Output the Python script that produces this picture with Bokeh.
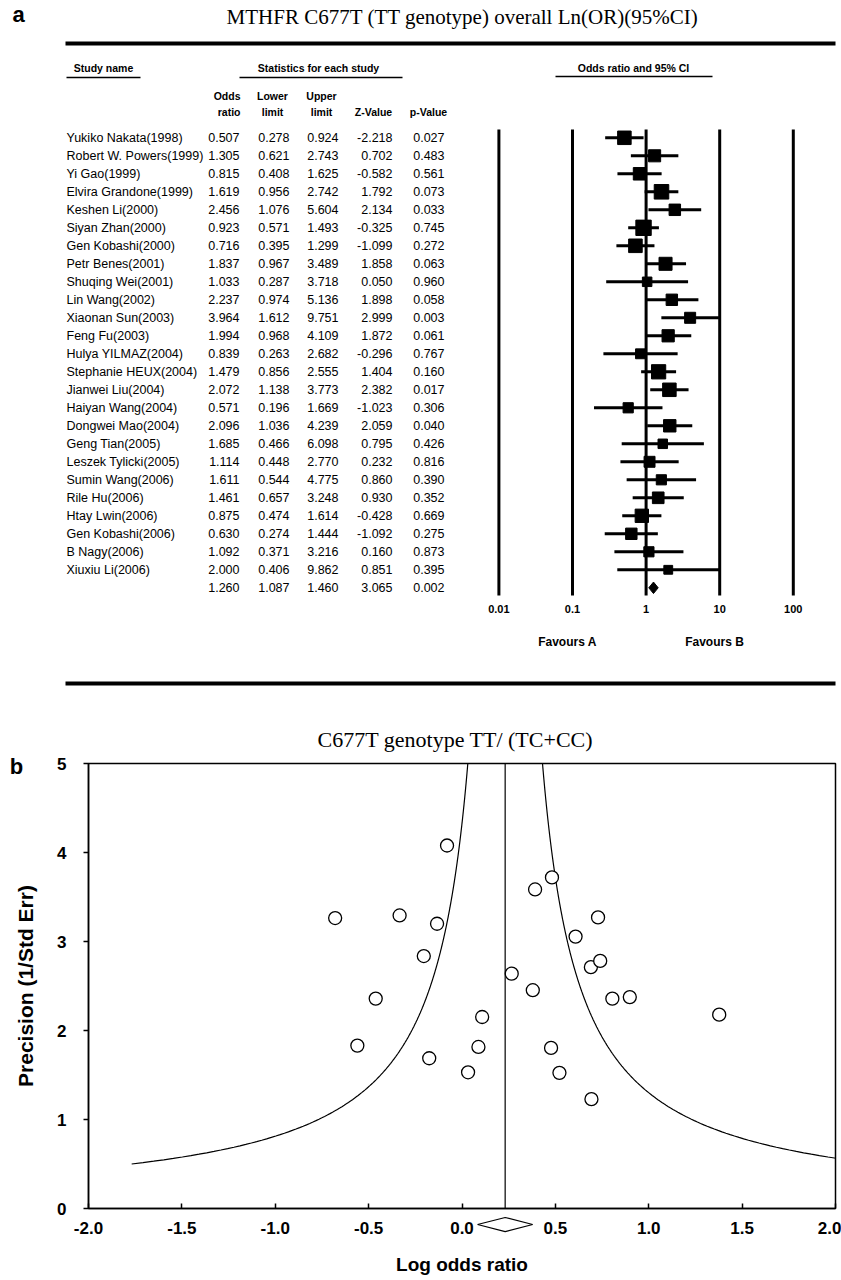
import math
import numpy as np
from bokeh.plotting import figure
from bokeh.models import (Range1d, LogScale, ColumnDataSource, Span,
                          FixedTicker, NumeralTickFormatter)
from bokeh.embed import file_html
from bokeh.resources import INLINE
from bokeh.core.properties import value

# ---------------- data ----------------
studies = ["Yukiko Nakata(1998)", "Robert W. Powers(1999)", "Yi Gao(1999)",
           "Elvira Grandone(1999)", "Keshen Li(2000)", "Siyan Zhan(2000)",
           "Gen Kobashi(2000)", "Petr Benes(2001)", "Shuqing Wei(2001)",
           "Lin Wang(2002)", "Xiaonan Sun(2003)", "Feng Fu(2003)",
           "Hulya YILMAZ(2004)", "Stephanie HEUX(2004)", "Jianwei Liu(2004)",
           "Haiyan Wang(2004)", "Dongwei Mao(2004)", "Geng Tian(2005)",
           "Leszek Tylicki(2005)", "Sumin Wang(2006)", "Rile Hu(2006)",
           "Htay Lwin(2006)", "Gen Kobashi(2006)", "B Nagy(2006)", "Xiuxiu Li(2006)"]
odds_ratio = [0.507, 1.305, 0.815, 1.619, 2.456, 0.923, 0.716, 1.837, 1.033, 2.237,
              3.964, 1.994, 0.839, 1.479, 2.072, 0.571, 2.096, 1.685, 1.114, 1.611,
              1.461, 0.875, 0.630, 1.092, 2.000]
lower_limit = [0.278, 0.621, 0.408, 0.956, 1.076, 0.571, 0.395, 0.967, 0.287, 0.974,
               1.612, 0.968, 0.263, 0.856, 1.138, 0.196, 1.036, 0.466, 0.448, 0.544,
               0.657, 0.474, 0.274, 0.371, 0.406]
upper_limit = [0.924, 2.743, 1.625, 2.742, 5.604, 1.493, 1.299, 3.489, 3.718, 5.136,
               9.751, 4.109, 2.682, 2.555, 3.773, 1.669, 4.239, 6.098, 2.770, 4.775,
               3.248, 1.614, 1.444, 3.216, 9.862]
z_value = [-2.218, 0.702, -0.582, 1.792, 2.134, -0.325, -1.099, 1.858, 0.050, 1.898,
           2.999, 1.872, -0.296, 1.404, 2.382, -1.023, 2.059, 0.795, 0.232, 0.860,
           0.930, -0.428, -1.092, 0.160, 0.851]
p_value = [0.027, 0.483, 0.561, 0.073, 0.033, 0.745, 0.272, 0.063, 0.960, 0.058,
           0.003, 0.061, 0.767, 0.160, 0.017, 0.306, 0.040, 0.426, 0.816, 0.390,
           0.352, 0.669, 0.275, 0.873, 0.395]
summary_or = 1.260
summary_lower = 1.087
summary_upper = 1.460
summary_z = 3.065
summary_p = 0.002

forest_ticks = [0.01, 0.1, 1, 10, 100]
forest_tick_labels = ["0.01", "0.1", "1", "10", "100"]
funnel_x_ticks = [-2.0, -1.5, -1.0, -0.5, 0.0, 0.5, 1.0, 1.5, 2.0]
funnel_y_ticks = [0, 1, 2, 3, 4, 5]

SANS = "Liberation Sans"
SERIF = "Liberation Serif"

# ---------------- panel a : forest plot ----------------
W = 841
HA = 700
pa = figure(width=W, height=HA, x_range=Range1d(0, W), y_range=Range1d(HA, 0),
            x_axis_location=None, y_axis_location=None, toolbar_location=None,
            output_backend="svg", min_border=0, outline_line_color=None)
pa.grid.visible = False

X_ONE = 645.6    # pixel of OR = 1
DEC = 73.6       # pixels per decade
pa.extra_x_ranges = {"or": Range1d(10 ** ((0 - X_ONE) / DEC), 10 ** ((W - X_ONE) / DEC))}
pa.extra_x_scales = {"or": LogScale()}
ROW0 = 137.3
ROWH = 18.0
pa.extra_y_ranges = {"row": Range1d((HA - ROW0) / ROWH, (0 - ROW0) / ROWH)}

n = len(studies)
rows_all = list(range(n + 1))
fmt = lambda v: f"{v:.3f}"
table = ColumnDataSource(dict(
    row=rows_all,
    name=studies + [""],
    or_t=[fmt(v) for v in odds_ratio + [summary_or]],
    lo_t=[fmt(v) for v in lower_limit + [summary_lower]],
    up_t=[fmt(v) for v in upper_limit + [summary_upper]],
    z_t=[fmt(v) for v in z_value + [summary_z]],
    p_t=[fmt(v) for v in p_value + [summary_p]],
))
common = dict(source=table, y="row", y_range_name="row", text_font=value(SANS),
              text_font_size="12.5px", text_baseline="middle", text_color="black")
pa.text(x=66, text="name", text_align="left", **common)
pa.text(x=239, text="or_t", text_align="right", **common)
pa.text(x=289, text="lo_t", text_align="right", **common)
pa.text(x=338, text="up_t", text_align="right", **common)
pa.text(x=392, text="z_t", text_align="right", **common)
pa.text(x=444, text="p_t", text_align="right", **common)

# titles / headers
pa.text(x=[18], y=[14], text=["a"], text_font=value(SANS), text_font_style="bold",
        text_font_size="22px", text_align="center", text_baseline="middle")
pa.text(x=[462], y=[16], text=["MTHFR C677T (TT genotype) overall Ln(OR)(95%CI)"],
        text_font=value(SERIF), text_font_size="21px", text_align="center",
        text_baseline="middle")
pa.segment(x0=[65, 65], y0=[43, 683], x1=[835, 835], y1=[43, 683],
           line_width=4, line_color="black")

hdr = dict(text_font=value(SANS), text_font_style="bold", text_font_size="10.5px",
           text_baseline="middle", text_color="black")
pa.text(x=[103, 318, 633], y=[67, 67, 67],
        text=["Study name", "Statistics for each study", "Odds ratio and 95% CI"],
        text_align="center", **hdr)
pa.segment(x0=[66, 239, 555], y0=[77, 77, 76], x1=[140, 402, 712], y1=[77, 77, 76],
           line_width=1.6, line_color="black")
pa.text(x=[240, 240], y=[95, 111], text=["Odds", "ratio"], text_align="right", **hdr)
pa.text(x=[272, 272, 321, 321, 373, 428], y=[95, 111, 95, 111, 111, 111],
        text=["Lower", "limit", "Upper", "limit", "Z-Value", "p-Value"],
        text_align="center", **hdr)

# forest plot
prec = [3.92 / (math.log(u) - math.log(l)) for l, u in zip(lower_limit, upper_limit)]
forest = ColumnDataSource(dict(
    row=list(range(n)), est=odds_ratio, lo=lower_limit, hi=upper_limit,
    size=[6 + 2.3 * pr for pr in prec],
))
pa.segment(x0=forest_ticks, y0=[129] * 5, x1=forest_ticks, y1=[595] * 5,
           x_range_name="or", line_width=3, line_color="black")
pa.segment(x0="lo", y0="row", x1="hi", y1="row", source=forest, x_range_name="or",
           y_range_name="row", line_width=3, line_color="black")
pa.scatter(x="est", y="row", size="size", marker="square", source=forest,
           x_range_name="or", y_range_name="row", fill_color="black", line_color="black")
pa.patch(x=[summary_lower, summary_or, summary_upper, summary_or],
         y=[n, n - 0.32, n, n + 0.32], x_range_name="or", y_range_name="row",
         fill_color="black", line_color="black")
pa.text(x=forest_ticks, y=[608] * 5, text=forest_tick_labels, x_range_name="or",
        text_font=value(SANS), text_font_style="bold", text_font_size="11px",
        text_align="center", text_baseline="middle")
pa.text(x=[567, 714], y=[641, 641], text=["Favours A", "Favours B"],
        text_font=value(SANS), text_font_style="bold", text_font_size="12px",
        text_align="center", text_baseline="middle")

# ---------------- panel b : funnel plot ----------------
HB = 580
pb = figure(width=W, height=HB, x_range=Range1d(-2, 2), y_range=Range1d(0, 5),
            toolbar_location=None, output_backend="svg",
            min_border_left=88, min_border_right=6, min_border_top=63,
            min_border_bottom=72)
pb.grid.visible = False
pb.outline_line_color = "black"
pb.outline_line_width = 1.5
pb.outline_line_alpha = 1.0

pb.xaxis.ticker = FixedTicker(ticks=funnel_x_ticks)
pb.xaxis.formatter = NumeralTickFormatter(format="0.0")
pb.xaxis.major_tick_in = 5
pb.xaxis.major_tick_out = 0
pb.xaxis.minor_tick_line_color = None
pb.xaxis.major_label_standoff = 13
pb.yaxis.ticker = FixedTicker(ticks=funnel_y_ticks)
pb.yaxis.major_tick_in = 0
pb.yaxis.major_tick_out = 5
pb.yaxis.minor_tick_line_color = None
pb.yaxis.major_label_standoff = 17
for ax in (pb.xaxis[0], pb.yaxis[0]):
    ax.axis_line_color = "black"
    ax.axis_line_width = 1.5
    ax.major_tick_line_color = "black"
    ax.major_tick_line_width = 1.5
    ax.major_label_text_font = SANS
    ax.major_label_text_font_style = "bold"
    ax.major_label_text_font_size = "17px"
    ax.major_label_text_color = "black"

m = math.log(summary_or)
pb.add_layout(Span(location=m, dimension="height", line_color="black", line_width=1.2))
curve_prec = np.linspace(0.5, 5.2, 300)
pb.line(m - 1.0 / curve_prec, curve_prec, line_color="black", line_width=1.2)
pb.line(m + 1.0 / curve_prec, curve_prec, line_color="black", line_width=1.2)

log_or = [math.log(v) for v in odds_ratio]
pb.scatter(log_or, prec, size=13, marker="circle", fill_color="white",
           line_color="black", line_width=1.3)

dy = -0.18
pb.patch([math.log(summary_lower), m, math.log(summary_upper), m],
         [dy, dy + 0.079, dy, dy - 0.079], fill_color="white", line_color="black",
         line_width=1.2, level="overlay")

outside = dict(level="overlay", text_baseline="middle", text_align="center",
               text_color="black")
pb.text(x=[-0.035], y=[5.27], text=["C677T genotype TT/ (TC+CC)"],
        text_font=value(SERIF), text_font_size="22px", **outside)
pb.text(x=[-2.386], y=[4.97], text=["b"], text_font=value(SANS),
        text_font_style="bold", text_font_size="22px", **outside)
pb.text(x=[-2.34], y=[2.5], text=["Precision (1/Std Err)"], angle=math.pi / 2,
        text_font=value(SANS), text_font_style="bold", text_font_size="21px", **outside)
pb.text(x=[0.0], y=[-0.63], text=["Log odds ratio"], text_font=value(SANS),
        text_font_style="bold", text_font_size="19px", **outside)

open("out.html", "w").write(file_html([pa, pb], INLINE, title="MTHFR C677T meta-analysis"))
